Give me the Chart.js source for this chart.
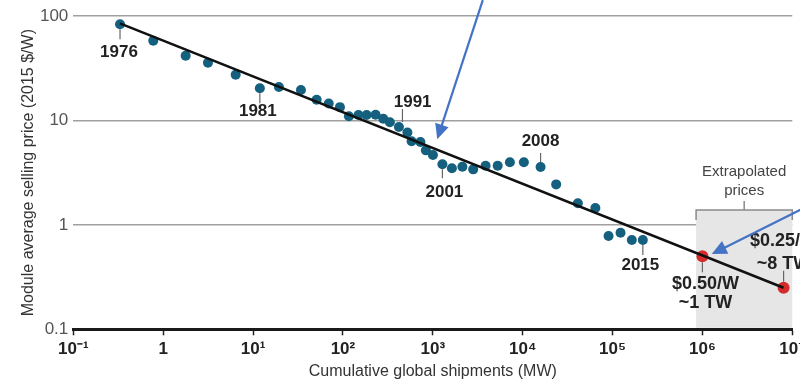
<!DOCTYPE html>
<html><head><meta charset="utf-8">
<script src="https://cdn.jsdelivr.net/npm/chart.js@4"></script>
<style>
html,body{margin:0;padding:0;overflow:hidden;background:#fff;width:800px;height:385px}
#wrap{position:relative;width:840px;height:385px}
canvas{display:block}
</style></head><body>
<div id="wrap"><canvas id="c" width="840" height="385"></canvas></div>
<script>
// ---- data ----
const shipmentsMW = [0.331,0.776,1.78,3.15,6.41,11.9,19.4,34.1,51.0,69.5,92.6,116.6,149,183.5,231,281,333,420,522,581,728,838,1003,1279,1631,2134,2815,3867,5271,7204,10311,15820,23580,41110,64370,90280,122700,163900,217300];
const priceUSDperW = [83.3,58.0,41.7,35.7,27.4,20.3,20.9,19.6,15.8,14.5,13.4,10.95,11.26,11.26,11.34,10.36,9.61,8.65,7.66,6.31,6.21,5.17,4.66,3.81,3.48,3.60,3.40,3.68,3.68,3.97,3.97,3.58,2.44,1.61,1.45,0.781,0.840,0.715,0.715];
const extrapShipmentsMW = [1e6, 8e6];
const extrapPrice = [0.5, 0.25];
const extrapLabels = [["$0.50/W","~1 TW"],["$0.25/W","~8 TW"]];
const trendShipmentsMW = [0.33, 8e6];
const trendPrice = [85, 0.25];
const yearLabels = ["1976","1981","1991","2001","2008","2015"];
const yearLabelIndex = [0,5,17,23,31,38];
const xTickValues = [0.1,1,10,100,1e3,1e4,1e5,1e6,1e7];
const xTickLabels = ["10\u207B\u00B9","1","10\u00B9","10\u00B2","10\u00B3","10\u2074","10\u2075","10\u2076","10\u2077"];
const yTickValues = [0.1,1,10,100];
const yTickLabels = ["0.1","1","10","100"];
const extrapRangeMW = [8.5e5, 1e7];
const extrapBoxTopPrice = 1.39;
const boxTitle = ["Extrapolated","prices"];

// ---- styling / layout (not data) ----
const BOLD = '"Liberation Sans Narrow","Liberation Sans",Arial,sans-serif';
const REG = '"Liberation Sans",Arial,sans-serif';
const yearOffsets = [ // [leaderX, leaderY0, leaderY1, labelDX, labelDY]
  [0, 5, 15, -1, 28],
  [0, 5, 15, -2, 23],
  [3.5, -5, -18, 13.7, -24.5],
  [0, 5, 14, 2, 28],
  [0, -5, -14, 0, -26],
  [0, 5, 15, -2.5, 25]
];
const extrapOffsets = [ // [leaderY0, leaderY1, line1DY, line2DY, dx]
  [6, 16, 28, 46.5, 3],
  [-6, -17, -47, -24, 0]
];
const arrows = [ // data-space start and tip
  {x0: 3600, y0: 142, x1: 1120, y1: 6.6},
  {x0: 1.28e7, y0: 1.42, x1: 1.27e6, y1: 0.525}
];

function drawArrow(ctx, x0, y0, x1, y1) {
  const a = Math.atan2(y1 - y0, x1 - x0), L = 15, W = 7;
  const c = Math.cos(a), s = Math.sin(a);
  ctx.save();
  ctx.strokeStyle = '#4472c4'; ctx.fillStyle = '#4472c4'; ctx.lineWidth = 2.2;
  ctx.beginPath(); ctx.moveTo(x0, y0); ctx.lineTo(x1 - c * L * 0.8, y1 - s * L * 0.8); ctx.stroke();
  const bx = x1 - c * L, by = y1 - s * L;
  ctx.beginPath(); ctx.moveTo(x1, y1);
  ctx.lineTo(bx - s * W, by + c * W); ctx.lineTo(bx + s * W, by - c * W); ctx.closePath(); ctx.fill();
  ctx.restore();
}

const annot = {
  id: 'annot',
  beforeDatasetsDraw(chart) {
    const ctx = chart.ctx, xs = chart.scales.x, ys = chart.scales.y;
    const l = xs.getPixelForValue(extrapRangeMW[0]), r = xs.getPixelForValue(extrapRangeMW[1]);
    const t = ys.getPixelForValue(extrapBoxTopPrice), b = ys.getPixelForValue(0.1) - 1.5;
    ctx.save();
    ctx.fillStyle = '#e6e6e6'; ctx.fillRect(l, t, r - l, b - t);
    ctx.strokeStyle = '#8a8a8a'; ctx.lineWidth = 1.5;
    ctx.beginPath();
    ctx.moveTo(l, t + 10); ctx.lineTo(l, t); ctx.lineTo(r, t); ctx.lineTo(r, t + 10);
    ctx.moveTo((l + r) / 2, t); ctx.lineTo((l + r) / 2, t - 9);
    ctx.stroke();
    ctx.fillStyle = '#444'; ctx.font = '15px ' + REG; ctx.textAlign = 'center'; ctx.textBaseline = 'middle';
    ctx.fillText(boxTitle[0], (l + r) / 2, t - 38);
    ctx.fillText(boxTitle[1], (l + r) / 2, t - 19);
    ctx.restore();
  },
  afterDatasetsDraw(chart) {
    const ctx = chart.ctx, xs = chart.scales.x, ys = chart.scales.y;
    ctx.save();
    ctx.textAlign = 'center'; ctx.textBaseline = 'middle';
    ctx.strokeStyle = '#666'; ctx.lineWidth = 1.2;
    ctx.fillStyle = '#222'; ctx.font = 'bold 17px ' + BOLD;
    yearLabels.forEach((lab, i) => {
      const k = yearLabelIndex[i], o = yearOffsets[i];
      const px = xs.getPixelForValue(shipmentsMW[k]), py = ys.getPixelForValue(priceUSDperW[k]);
      ctx.beginPath(); ctx.moveTo(px + o[0], py + o[1]); ctx.lineTo(px + o[0], py + o[2]); ctx.stroke();
      ctx.fillText(lab, px + o[3], py + o[4]);
    });
    ctx.font = 'bold 18px ' + BOLD;
    extrapLabels.forEach((lines, i) => {
      const o = extrapOffsets[i];
      const px = xs.getPixelForValue(extrapShipmentsMW[i]), py = ys.getPixelForValue(extrapPrice[i]);
      ctx.beginPath(); ctx.moveTo(px, py + o[0]); ctx.lineTo(px, py + o[1]); ctx.stroke();
      ctx.fillText(lines[0], px + o[4], py + o[2]);
      ctx.fillText(lines[1], px + o[4], py + o[3]);
    });
    ctx.restore();
    arrows.forEach(a => drawArrow(ctx, xs.getPixelForValue(a.x0), ys.getPixelForValue(a.y0), xs.getPixelForValue(a.x1), ys.getPixelForValue(a.y1)));
  }
};

new Chart(document.getElementById('c'), {
  data: {
    datasets: [
      { type: 'line', data: trendShipmentsMW.map((x, i) => ({x, y: trendPrice[i]})), borderColor: '#111', borderWidth: 2.5, pointRadius: 0, order: 0 },
      { type: 'scatter', data: extrapShipmentsMW.map((x, i) => ({x, y: extrapPrice[i]})), backgroundColor: '#d42b2b', borderWidth: 0, pointRadius: 6, order: 1 },
      { type: 'scatter', data: shipmentsMW.map((x, i) => ({x, y: priceUSDperW[i]})), backgroundColor: '#15607f', borderWidth: 0, pointRadius: 5, order: 2 }
    ]
  },
  options: {
    responsive: false, animation: false, devicePixelRatio: 1,
    layout: { padding: { left: 0, right: 47.7, top: 16, bottom: 0 } },
    plugins: { legend: { display: false }, tooltip: { enabled: false } },
    scales: {
      x: {
        type: 'logarithmic', min: 0.1, max: 1e7, position: 'bottom',
        afterBuildTicks: s => { s.ticks = xTickValues.map(v => ({value: v})); },
        afterFit: s => { s.height = 55.7; },
        ticks: { callback: (v) => { const i = xTickValues.indexOf(v); return i >= 0 ? xTickLabels[i] : ''; },
                 font: { family: BOLD, size: 17, weight: 'bold' }, color: '#222', padding: 4, maxRotation: 0, autoSkip: false },
        grid: { drawOnChartArea: false, drawTicks: true, tickLength: 6, tickColor: '#222', tickWidth: 1.5 },
        border: { display: true, color: '#1a1a1a', width: 3 },
        title: { display: true, text: 'Cumulative global shipments (MW)', font: { family: REG, size: 16 }, color: '#333', padding: { top: 0, bottom: 4 } }
      },
      y: {
        type: 'logarithmic', min: 0.1, max: 100, position: 'left',
        afterBuildTicks: s => { s.ticks = yTickValues.map(v => ({value: v})); },
        afterFit: s => { s.width = 73.3; },
        ticks: { callback: (v) => { const i = yTickValues.indexOf(v); return i >= 0 ? yTickLabels[i] : ''; },
                 font: { family: REG, size: 17 }, color: '#555', padding: 5, autoSkip: false },
        grid: { color: '#a0a0a0', lineWidth: 1.5, drawTicks: false },
        border: { display: false },
        title: { display: true, text: 'Module average selling price (2015 $/W)', font: { family: REG, size: 16 }, color: '#333', padding: { top: 19, bottom: 0 } }
      }
    }
  },
  plugins: [annot]
});
</script>
</body></html>
